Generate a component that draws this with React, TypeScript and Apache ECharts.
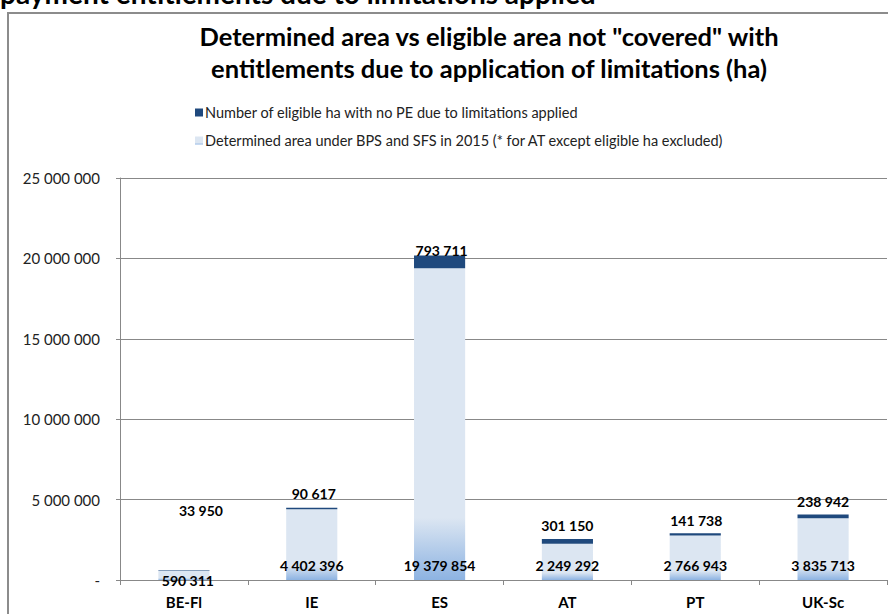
import React, { useEffect, useRef } from "react";
import * as echarts from "echarts";

const categories = ["BE-Fl", "IE", "ES", "AT", "PT", "UK-Sc"];
const determinedArea = [590311, 4402396, 19379854, 2249292, 2766943, 3835713];
const noPeArea = [33950, 90617, 793711, 301150, 141738, 238942];
const yTicks = { min: 0, max: 25000000, interval: 5000000 };

const seriesNames = {
  noPe: "Number of eligible ha with no PE due to limitations applied",
  determined:
    "Determined area under BPS and SFS in 2015 (* for AT except eligible ha excluded)",
};

// label nudges (presentation only)
const determinedLabelOffsets = [[4, 15], [0, 0], [0, 0], [0, 0], [0, 0], [0, 0]];
const noPeLabelOffsets = [[17, -46], [2, -1], [2, 8], [0, 0], [1, 0], [0, 0]];

const fmt = (v: number) =>
  v === 0 ? "-" : String(Math.round(v)).replace(/\B(?=(\d{3})+(?!\d))/g, " ");

const FONT = "Lato, 'Open Sans', sans-serif";

export default function App() {
  const ref = useRef<HTMLDivElement>(null);
  useEffect(() => {
    if (!ref.current) return;
    const chart = echarts.init(ref.current, null, { renderer: "svg" });
    const lightGrad = new echarts.graphic.LinearGradient(0, 0, 0, 1, [
      { offset: 0, color: "#DCE6F2" },
      { offset: 0.8, color: "#DCE6F2" },
      { offset: 1, color: "#8DB3E2" },
    ]);
    const option: any = {
      animation: false,
      textStyle: { fontFamily: FONT },
      graphic: [
        {
          type: "text",
          left: 0,
          top: -21,
          style: {
            text: "payment entitlements due to limitations applied",
            font: `bold 28px ${FONT}`,
            fill: "#000",
          },
        },
        {
          type: "rect",
          shape: { x: 8, y: 13, width: 900, height: 620 },
          style: { fill: "none", stroke: "#8c8c8c", lineWidth: 2 },
        },
        {
          type: "text",
          x: 489,
          y: 20,
          style: {
            text:
              'Determined area vs eligible area not "covered" with\nentitlements due to application of limitations (ha)',
            font: `bold 25.5px ${FONT}`,
            fill: "#000",
            textAlign: "center",
            lineHeight: 32,
          },
        },
      ],
      legend: {
        orient: "vertical",
        left: 190,
        top: 100,
        itemWidth: 8,
        itemHeight: 8,
        itemGap: 13,
        icon: "rect",
        data: [seriesNames.noPe, seriesNames.determined],
        textStyle: { fontSize: 14.5, color: "#222", fontFamily: FONT, padding: [0, 0, 0, -3] },
      },
      grid: { left: 120, right: 1, top: 178, bottom: 34, containLabel: false },
      xAxis: {
        type: "category",
        data: categories,
        axisLine: { lineStyle: { color: "#888", width: 1 } },
        axisTick: { show: true, length: 5, lineStyle: { color: "#888" } },
        axisLabel: {
          margin: 14,
          fontSize: 15,
          fontWeight: "bold",
          color: "#000",
          fontFamily: FONT,
        },
      },
      yAxis: {
        type: "value",
        min: yTicks.min,
        max: yTicks.max,
        interval: yTicks.interval,
        axisLine: { show: true, lineStyle: { color: "#888" } },
        axisTick: { show: true, length: 4, lineStyle: { color: "#888" } },
        splitLine: { lineStyle: { color: "#888" } },
        axisLabel: {
          formatter: fmt,
          margin: 20,
          fontSize: 15,
          color: "#222",
          fontFamily: FONT,
        },
      },
      series: [
        {
          name: seriesNames.determined,
          type: "bar",
          stack: "a",
          barCategoryGap: "60%",
          itemStyle: { color: lightGrad },
          data: determinedArea.map((v, i) => ({
            value: v,
            label: { offset: determinedLabelOffsets[i] },
          })),
          label: {
            show: true,
            position: "insideBottom",
            distance: 8,
            formatter: (p: any) => fmt(p.value),
            fontSize: 14,
            fontWeight: "bold",
            color: "#000",
            fontFamily: FONT,
          },
        },
        {
          name: seriesNames.noPe,
          type: "bar",
          stack: "a",
          barCategoryGap: "60%",
          itemStyle: { color: "#1F497D" },
          data: noPeArea.map((v, i) => ({
            value: v,
            label: { offset: noPeLabelOffsets[i] },
          })),
          label: {
            show: true,
            position: "top",
            distance: 6,
            formatter: (p: any) => fmt(p.value),
            fontSize: 14,
            fontWeight: "bold",
            color: "#000",
            fontFamily: FONT,
          },
        },
      ],
    };
    chart.setOption(option);
    return () => chart.dispose();
  }, []);
  return (
    <div
      ref={ref}
      style={{ position: "fixed", left: 0, top: 0, width: 888, height: 614, background: "#fff" }}
    />
  );
}
